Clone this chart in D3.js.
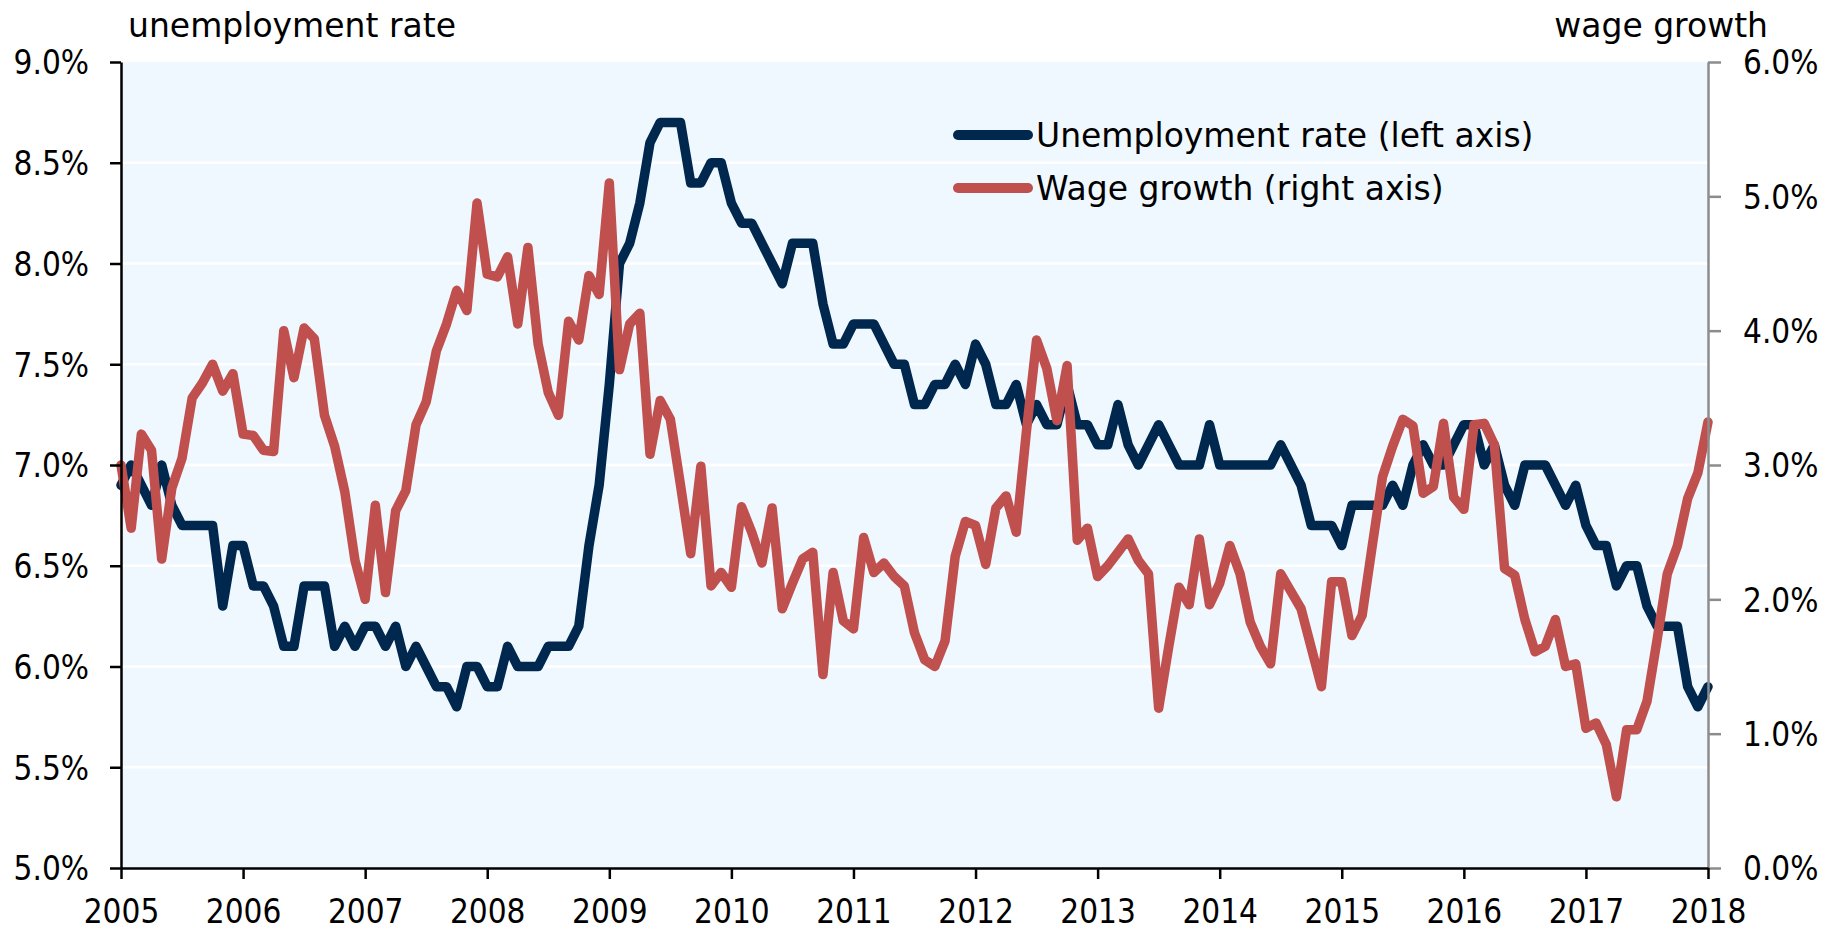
<!DOCTYPE html>
<html>
<head>
<meta charset="utf-8">
<script src="https://cdn.jsdelivr.net/npm/d3@7"></script>
<style>
  html, body { margin: 0; padding: 0; background: #ffffff; }
  svg { display: block; }
  .word { font-family: "DejaVu Sans", Verdana, sans-serif; font-size: 33px; fill: #000; }
  .num text { font-family: "DejaVu Sans Condensed", "DejaVu Sans", sans-serif; font-stretch: condensed; font-size: 33px; fill: #000; }
</style>
</head>
<body>
<svg id="chart" width="1841" height="931"></svg>
<script>
// ---- data (monthly, Jan 2005 .. Jan 2018) ----
const startYear = 2005;
const unemployment = [
  6.9, 7.0, 6.9, 6.8, 7.0, 6.8, 6.7, 6.7, 6.7, 6.7, 6.3, 6.6,
  6.6, 6.4, 6.4, 6.3, 6.1, 6.1, 6.4, 6.4, 6.4, 6.1, 6.2, 6.1,
  6.2, 6.2, 6.1, 6.2, 6.0, 6.1, 6.0, 5.9, 5.9, 5.8, 6.0, 6.0,
  5.9, 5.9, 6.1, 6.0, 6.0, 6.0, 6.1, 6.1, 6.1, 6.2, 6.6, 6.9,
  7.4, 8.0, 8.1, 8.3, 8.6, 8.7, 8.7, 8.7, 8.4, 8.4, 8.5, 8.5,
  8.3, 8.2, 8.2, 8.1, 8.0, 7.9, 8.1, 8.1, 8.1, 7.8, 7.6, 7.6,
  7.7, 7.7, 7.7, 7.6, 7.5, 7.5, 7.3, 7.3, 7.4, 7.4, 7.5, 7.4,
  7.6, 7.5, 7.3, 7.3, 7.4, 7.2, 7.3, 7.2, 7.2, 7.4, 7.2, 7.2,
  7.1, 7.1, 7.3, 7.1, 7.0, 7.1, 7.2, 7.1, 7.0, 7.0, 7.0, 7.2,
  7.0, 7.0, 7.0, 7.0, 7.0, 7.0, 7.1, 7.0, 6.9, 6.7, 6.7, 6.7,
  6.6, 6.8, 6.8, 6.8, 6.8, 6.9, 6.8, 7.0, 7.1, 7.0, 7.0, 7.1,
  7.2, 7.2, 7.0, 7.1, 6.9, 6.8, 7.0, 7.0, 7.0, 6.9, 6.8, 6.9,
  6.7, 6.6, 6.6, 6.4, 6.5, 6.5, 6.3, 6.2, 6.2, 6.2, 5.9, 5.8,
  5.9
];
const wageGrowth = [
  3.00, 2.53, 3.23, 3.11, 2.30, 2.83, 3.05, 3.50, 3.61, 3.75, 3.55, 3.68,
  3.23, 3.22, 3.11, 3.10, 4.00, 3.65, 4.02, 3.94, 3.37, 3.14, 2.80, 2.29,
  2.00, 2.70, 2.05, 2.66, 2.81, 3.30, 3.47, 3.85, 4.05, 4.30, 4.15, 4.95,
  4.42, 4.40, 4.55, 4.05, 4.62, 3.90, 3.54, 3.37, 4.07, 3.93, 4.41, 4.27,
  5.10, 3.71, 4.05, 4.13, 3.08, 3.48, 3.34, 2.85, 2.34, 2.99, 2.10, 2.20,
  2.09, 2.69, 2.50, 2.27, 2.68, 1.93, 2.12, 2.30, 2.35, 1.44, 2.20, 1.84,
  1.78, 2.46, 2.20, 2.27, 2.17, 2.10, 1.75, 1.55, 1.50, 1.69, 2.32, 2.58,
  2.55, 2.26, 2.68, 2.77, 2.50, 3.25, 3.93, 3.72, 3.33, 3.74, 2.44, 2.53,
  2.17, 2.25, 2.35, 2.45, 2.29, 2.19, 1.19, 1.65, 2.09, 1.96, 2.45, 1.96,
  2.12, 2.40, 2.19, 1.83, 1.65, 1.52, 2.19, 2.06, 1.93, 1.64, 1.35, 2.13,
  2.13, 1.73, 1.88, 2.40, 2.91, 3.14, 3.34, 3.29, 2.79, 2.84, 3.31, 2.76,
  2.67, 3.30, 3.31, 3.15, 2.23, 2.18, 1.85, 1.61, 1.65, 1.85, 1.50, 1.52,
  1.04, 1.08, 0.92, 0.53, 1.03, 1.03, 1.24, 1.70, 2.19, 2.40, 2.75, 2.94,
  3.32
];
const yearTicks = [2005, 2006, 2007, 2008, 2009, 2010, 2011, 2012, 2013, 2014, 2015, 2016, 2017, 2018];
const leftTicks = [5.0, 5.5, 6.0, 6.5, 7.0, 7.5, 8.0, 8.5, 9.0];
const rightTicks = [0, 1, 2, 3, 4, 5, 6];
const seriesNames = ["Unemployment rate (left axis)", "Wage growth (right axis)"];
const axisTitles = ["unemployment rate", "wage growth"];

// ---- layout ----
const L = 121, R = 1708, T = 62, B = 868;
const NAVY = "#00284f", RED = "#c0504d";

const svg = d3.select("#chart");
const x = d3.scaleLinear().domain([2005, 2018]).range([L, R]);
const yL = d3.scaleLinear().domain([5, 9]).range([B, T]);
const yR = d3.scaleLinear().domain([0, 6]).range([B, T]);

// plot background
svg.append("rect").attr("x", L).attr("y", T).attr("width", R - L).attr("height", B - T)
  .attr("fill", "#f0f8ff");

// gridlines (white)
svg.append("g").selectAll("line").data(leftTicks.filter(v => v > 5 && v < 9)).join("line")
  .attr("x1", L).attr("x2", R)
  .attr("y1", d => yL(d)).attr("y2", d => yL(d))
  .attr("stroke", "#ffffff").attr("stroke-width", 2.5);

// lines
const monthX = i => x(startYear + i / 12);
const lineL = d3.line().x((d, i) => monthX(i)).y(d => yL(d));
const lineR = d3.line().x((d, i) => monthX(i)).y(d => yR(d));

svg.append("path").datum(unemployment).attr("d", lineL)
  .attr("fill", "none").attr("stroke", NAVY).attr("stroke-width", 9.5)
  .attr("stroke-linejoin", "round").attr("stroke-linecap", "round");
svg.append("path").datum(wageGrowth).attr("d", lineR)
  .attr("fill", "none").attr("stroke", RED).attr("stroke-width", 9.5)
  .attr("stroke-linejoin", "round").attr("stroke-linecap", "round");

// axes
const fmtPct = d => d.toFixed(1) + "%";
const gLeft = svg.append("g").attr("class", "num").attr("transform", `translate(${L},0)`)
  .call(d3.axisLeft(yL).tickValues(leftTicks).tickFormat(fmtPct).tickSize(11).tickSizeOuter(0).tickPadding(21));
gLeft.select(".domain").attr("stroke", "#000").attr("stroke-width", 2.5);
gLeft.selectAll(".tick line").attr("stroke", "#000").attr("stroke-width", 2.5);
gLeft.selectAll("text").attr("dy", "0.36em");

const gRight = svg.append("g").attr("class", "num").attr("transform", `translate(${R},0)`)
  .call(d3.axisRight(yR).tickValues(rightTicks).tickFormat(fmtPct).tickSize(13).tickSizeOuter(0).tickPadding(22));
gRight.select(".domain").attr("stroke", "#8c8c8c").attr("stroke-width", 2.5);
gRight.selectAll(".tick line").attr("stroke", "#8c8c8c").attr("stroke-width", 2.5);
gRight.selectAll("text").attr("dy", "0.36em");

const gBottom = svg.append("g").attr("class", "num").attr("transform", `translate(0,${B})`)
  .call(d3.axisBottom(x).tickValues(yearTicks).tickFormat(d3.format("d")).tickSize(11).tickSizeOuter(0).tickPadding(21));
gBottom.select(".domain").attr("stroke", "#000").attr("stroke-width", 2.5);
gBottom.selectAll(".tick line").attr("stroke", "#000").attr("stroke-width", 2.5);

// axis titles
svg.append("text").attr("class", "word").attr("x", 128).attr("y", 37).text(axisTitles[0]);
svg.append("text").attr("class", "word").attr("x", 1768).attr("y", 37)
  .attr("text-anchor", "end").text(axisTitles[1]);

// legend
const legend = svg.append("g");
const legendColors = [NAVY, RED];
const legendY = [135, 188];
seriesNames.forEach((name, k) => {
  legend.append("line").attr("x1", 958).attr("x2", 1028)
    .attr("y1", legendY[k]).attr("y2", legendY[k])
    .attr("stroke", legendColors[k]).attr("stroke-width", 10).attr("stroke-linecap", "round");
  legend.append("text").attr("class", "word").attr("x", 1036).attr("y", legendY[k] + 12).text(name);
});
</script>
</body>
</html>
